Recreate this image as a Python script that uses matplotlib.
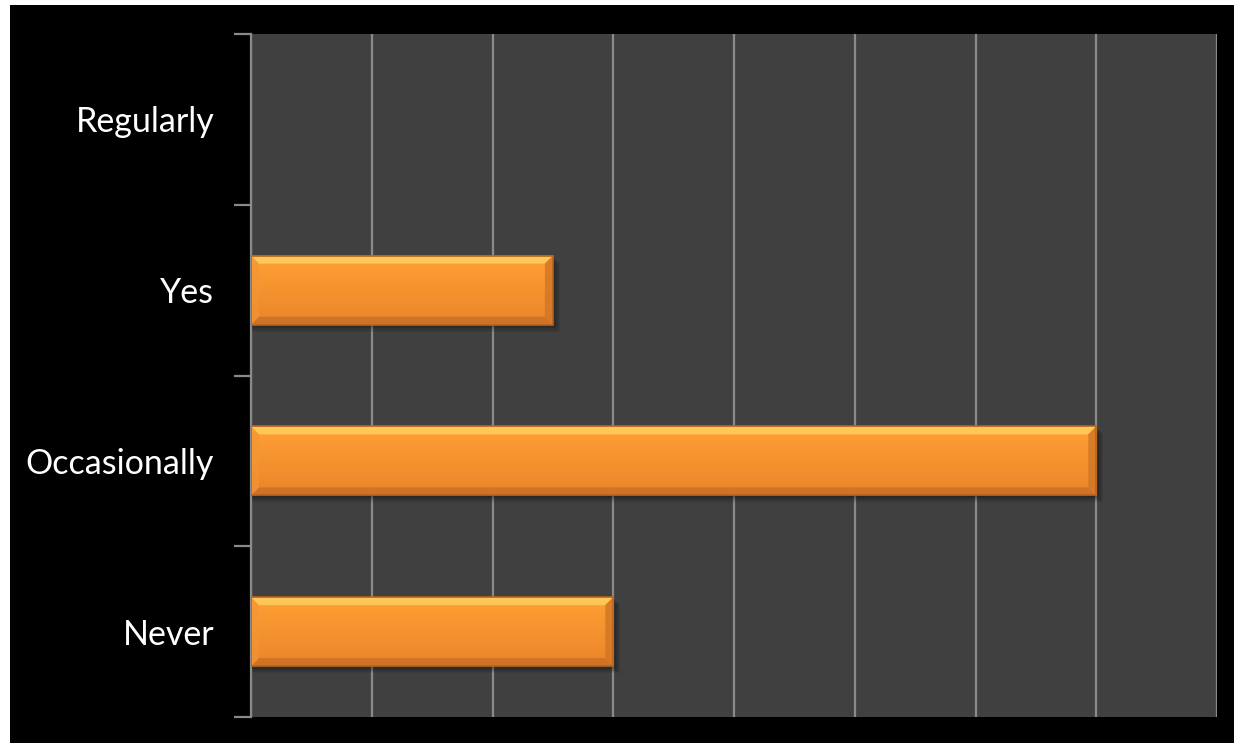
import numpy as np
import matplotlib.pyplot as plt
from matplotlib.patches import Polygon, Rectangle
from matplotlib.colors import to_rgb

categories = ['Never', 'Occasionally', 'Yes', 'Regularly']
values = [3, 7, 2.5, 0]
x_max = 8

W, H = 1234, 743
fig = plt.figure(figsize=(W / 100, H / 100), dpi=100, facecolor='white')

# black slide background (thin white margin on the left and top)
fig.patches.append(Rectangle((10 / W, 0), 1 - 10 / W, 1 - 5 / H,
                             transform=fig.transFigure, facecolor='black',
                             edgecolor='none', zorder=-10))

left, right, top, bottom = 251, 1217, 34, 717
ax = fig.add_axes([left / W, 1 - bottom / H, (right - left) / W, (bottom - top) / H])
ax.set_facecolor('#404040')
ax.set_xlim(0, x_max)
ax.set_ylim(-0.5, len(categories) - 0.5)

grid_col = '#8a8a8a'
ax.set_xticks(np.arange(0, x_max + 1, 1))
ax.tick_params(axis='x', length=0, labelbottom=False)
ax.grid(axis='x', color=grid_col, linewidth=1.6, zorder=1)
ax.set_axisbelow(True)

ax.set_yticks(range(len(categories)))
ax.set_yticklabels(categories, color='white', fontsize=24.5, family=['Lato', 'DejaVu Sans'])
ax.set_yticks(np.arange(-0.5, len(categories), 1), minor=True)
ax.tick_params(axis='y', which='major', length=0, pad=26.5)
ax.tick_params(axis='y', which='minor', length=12, width=1.6, color=grid_col)

for s in ['top', 'right', 'bottom']:
    ax.spines[s].set_visible(False)
ax.spines['left'].set_color(grid_col)
ax.spines['left'].set_linewidth(1.6)

# pixel sizes in data units
px_x = x_max / (right - left)
px_y = len(categories) / (bottom - top)
bar_h = 69 * px_y
bev_x, bev_y = 8 * px_x, 8 * px_y

face_top, face_bot = np.array(to_rgb('#ffa033')), np.array(to_rgb('#ea852b'))
grad = np.linspace(face_top, face_bot, 64).reshape(64, 1, 3)

for i, v in enumerate(values):
    if v <= 0:
        continue
    y0, y1 = i - bar_h / 2, i + bar_h / 2
    # soft shadow below/right
    for k in range(6):
        off = (k + 1) * 1.2
        ax.add_patch(Rectangle((0, y0 - off * px_y), v + off * px_x, bar_h,
                               facecolor='black', edgecolor='none',
                               alpha=0.07, zorder=2))
    ax.imshow(grad, extent=(0, v, y0, y1), aspect='auto', origin='upper',
              interpolation='bilinear', zorder=3)
    # bevel edges
    bevels = [
        ([(0, y1), (v, y1), (v - bev_x, y1 - bev_y), (bev_x, y1 - bev_y)], '#ffd060', 0.85),
        ([(0, y0), (v, y0), (v - bev_x, y0 + bev_y), (bev_x, y0 + bev_y)], '#c86f25', 0.8),
        ([(v, y1), (v, y0), (v - bev_x, y0 + bev_y), (v - bev_x, y1 - bev_y)], '#d27726', 0.85),
        ([(0, y1), (0, y0), (bev_x, y0 + bev_y), (bev_x, y1 - bev_y)], '#f59536', 0.6),
    ]
    for pts, col, a in bevels:
        ax.add_patch(Polygon(pts, closed=True, facecolor=col, edgecolor='none',
                             alpha=a, zorder=4))
    ax.add_patch(Rectangle((0, y0), v, bar_h, facecolor='none',
                           edgecolor='#b8641e', linewidth=1.2, zorder=5))

ax.set_xlim(0, x_max)
ax.set_ylim(-0.5, len(categories) - 0.5)

fig.savefig('out.png', dpi=100, facecolor=fig.get_facecolor())
